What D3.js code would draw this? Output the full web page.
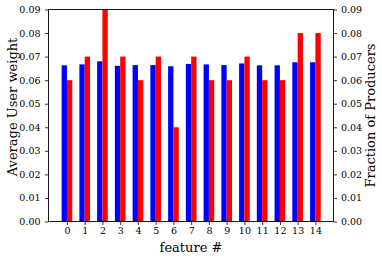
<!DOCTYPE html>
<meta charset="utf-8">
<script src="https://d3js.org/d3.v7.min.js"></script>
<style>
  body { margin: 0; background: #fff; }
  text { font-family: "DejaVu Serif", serif; fill: #000; }
</style>
<svg id="chart" width="382" height="258"></svg>
<script>
    // feature ids and the two series
    var features = d3.range(15);
    var userWeight = [0.0663, 0.0667, 0.0680, 0.0661, 0.0664, 0.0664, 0.0659, 0.0669,
                      0.0667, 0.0664, 0.0671, 0.0663, 0.0663, 0.0676, 0.0676];
    var producerFrac = [0.06, 0.07, 0.09, 0.07, 0.06, 0.07, 0.04, 0.07,
                        0.06, 0.06, 0.07, 0.06, 0.06, 0.08, 0.08];
    var yTicks = [0, 0.01, 0.02, 0.03, 0.04, 0.05, 0.06, 0.07, 0.08, 0.09];

    var svg = d3.select("#chart");
    // plot box (note: "top" is taken by window.top, so use other names)
    var mLeft = 48.5, mRight = 333.5, mTop = 9.5, mBottom = 221.5;
    var barW = 0.3;

    var x = d3.scaleLinear().domain([-1.04, 15.02]).range([mLeft, mRight]);
    var y = d3.scaleLinear().domain([0, 0.09]).range([mBottom, mTop]);

    // blue bars: left of the tick
    svg.append("g").selectAll("rect")
        .data(features)
        .enter().append("rect")
        .attr("x", function(d) { return x(d - barW); })
        .attr("width", function(d) { return x(d) - x(d - barW); })
        .attr("y", function(d) { return y(userWeight[d]); })
        .attr("height", function(d) { return y(0) - y(userWeight[d]); })
        .attr("fill", "#0000ff");

    // red bars: right of the tick
    svg.append("g").selectAll("rect")
        .data(features)
        .enter().append("rect")
        .attr("x", function(d) { return x(d); })
        .attr("width", function(d) { return x(d + barW) - x(d); })
        .attr("y", function(d) { return y(producerFrac[d]); })
        .attr("height", function(d) { return y(0) - y(producerFrac[d]); })
        .attr("fill", "#ff0000");

    // frame
    svg.append("rect")
        .attr("x", mLeft).attr("y", mTop)
        .attr("width", mRight - mLeft).attr("height", mBottom - mTop)
        .attr("fill", "none").attr("stroke", "#000").attr("stroke-width", 0.9);

    var fmt = d3.format(".2f");

    var axL = svg.append("g").attr("transform", "translate(" + mLeft + ",0)")
        .call(d3.axisLeft(y).tickValues(yTicks).tickFormat(fmt).tickSize(3.5).tickPadding(4.5));
    var axR = svg.append("g").attr("transform", "translate(" + mRight + ",0)")
        .call(d3.axisRight(y).tickValues(yTicks).tickFormat(fmt).tickSize(3.5).tickPadding(4));
    var axB = svg.append("g").attr("transform", "translate(0," + mBottom + ")")
        .call(d3.axisBottom(x).tickValues(features).tickFormat(d3.format("d")).tickSize(3.5).tickPadding(2.5));

    [axL, axR, axB].forEach(function(ax) {
        ax.select(".domain").remove();
        ax.selectAll("text").style("font-family", "DejaVu Serif").style("font-size", "9.5px");
        ax.selectAll("line").attr("stroke-width", 0.8);
    });

    // axis titles
    svg.append("text")
        .attr("transform", "translate(16.5,107) rotate(-90)")
        .attr("text-anchor", "middle")
        .style("font-size", "13px")
        .text("Average User weight");

    svg.append("text")
        .attr("transform", "translate(374.5," + (mTop + mBottom) / 2 + ") rotate(-90)")
        .attr("text-anchor", "middle")
        .style("font-size", "13px")
        .text("Fraction of Producers");

    svg.append("text")
        .attr("x", (mLeft + mRight) / 2)
        .attr("y", 252)
        .attr("text-anchor", "middle")
        .style("font-size", "13px")
        .text("feature #");
</script>
